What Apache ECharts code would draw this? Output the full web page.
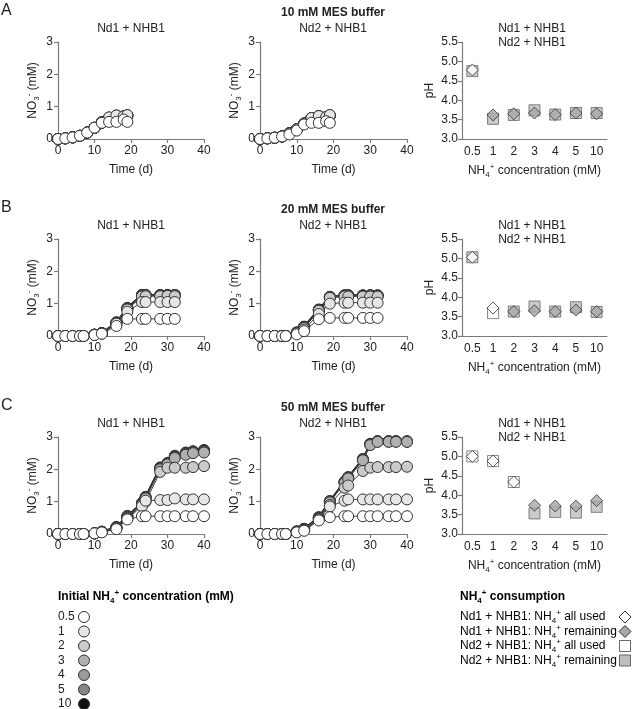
<!DOCTYPE html>
<html>
<head>
<meta charset="utf-8">
<script src="https://cdn.jsdelivr.net/npm/echarts@6/dist/echarts.min.js"></script>
<style>
  html, body { margin: 0; padding: 0; background: #fff; }
  #main { width: 633px; height: 709px; }
</style>
</head>
<body>
<div id="main"></div>
<script>
const FONT = "'Liberation Sans', Arial, sans-serif";
const AX = '#7a7a7a';

// initial NH4+ concentrations (mM) and their fill colours
const concLabels = ['0.5', '1', '2', '3', '4', '5', '10'];
const concColors = ['#ffffff', '#e6e6e6', '#cbcbcb', '#b0b0b0', '#9a9a9a', '#858585', '#111111'];
const phCats = ['0.5', '1', '2', '3', '4', '5', '10'];
const timeTicks = [0, 10, 20, 30, 40];

// sampling days
const tA = [0, 2, 4, 6, 8, 10, 12, 14, 16, 18, 19];
const tB = [0, 2, 4, 6, 7, 10, 12, 16, 19, 23, 24, 28, 30, 32];
const tC = [0, 2, 4, 6, 7, 10, 12, 16, 19, 23, 24, 28, 30, 32, 35, 37, 40];

// NO3- (mM), one row per concentration 0.5,1,2,3,4,5,10
const no3A_Nd1 = [
  [0, 0.02, 0.05, 0.1, 0.2, 0.35, 0.5, 0.53, 0.53, 0.6, 0.53],
  [0, 0.02, 0.05, 0.1, 0.2, 0.35, 0.52, 0.67, 0.73, 0.7, 0.74],
  [0, 0.02, 0.05, 0.1, 0.2, 0.35, 0.52, 0.66, 0.72, 0.7, 0.73],
  [0, 0.02, 0.05, 0.1, 0.2, 0.34, 0.51, 0.66, 0.72, 0.7, 0.73],
  [0, 0.02, 0.05, 0.1, 0.2, 0.34, 0.51, 0.65, 0.71, 0.69, 0.72],
  [0, 0.02, 0.05, 0.1, 0.2, 0.34, 0.51, 0.65, 0.71, 0.69, 0.72],
  [0, 0.02, 0.05, 0.1, 0.2, 0.34, 0.5, 0.65, 0.7, 0.68, 0.72]
];
const no3A_Nd2 = [
  [0, 0.02, 0.04, 0.08, 0.14, 0.26, 0.45, 0.5, 0.5, 0.55, 0.5],
  [0, 0.02, 0.04, 0.08, 0.17, 0.3, 0.48, 0.65, 0.71, 0.68, 0.74],
  [0, 0.02, 0.04, 0.08, 0.17, 0.3, 0.48, 0.65, 0.71, 0.68, 0.73],
  [0, 0.02, 0.04, 0.08, 0.18, 0.3, 0.48, 0.64, 0.7, 0.67, 0.73],
  [0, 0.02, 0.04, 0.08, 0.18, 0.3, 0.47, 0.64, 0.7, 0.67, 0.72],
  [0, 0.02, 0.04, 0.08, 0.18, 0.29, 0.47, 0.64, 0.7, 0.66, 0.72],
  [0, 0.02, 0.04, 0.08, 0.18, 0.29, 0.47, 0.63, 0.69, 0.66, 0.72]
];
const no3B_Nd1 = [
  [0, 0, 0, 0, 0, 0.03, 0.07, 0.31, 0.53, 0.53, 0.53, 0.53, 0.53, 0.53],
  [0, 0, 0, 0, 0, 0.04, 0.08, 0.38, 0.75, 1.05, 1.05, 1.05, 1.05, 1.05],
  [0, 0, 0, 0, 0, 0.04, 0.08, 0.4, 0.82, 1.22, 1.23, 1.23, 1.24, 1.23],
  [0, 0, 0, 0, 0, 0.04, 0.08, 0.41, 0.84, 1.25, 1.26, 1.25, 1.26, 1.26],
  [0, 0, 0, 0, 0, 0.04, 0.09, 0.41, 0.85, 1.26, 1.26, 1.26, 1.26, 1.26],
  [0, 0, 0, 0, 0, 0.04, 0.09, 0.42, 0.86, 1.26, 1.27, 1.26, 1.27, 1.27],
  [0, 0, 0, 0, 0, 0.04, 0.09, 0.42, 0.87, 1.27, 1.27, 1.27, 1.27, 1.27]
];
const no3B_Nd2 = [
  [0, 0, 0, 0, 0, 0.05, 0.15, 0.52, 0.56, 0.56, 0.56, 0.56, 0.56, 0.56],
  [0, 0, 0, 0, 0, 0.08, 0.2, 0.68, 1.0, 1.03, 1.03, 1.03, 1.03, 1.03],
  [0, 0, 0, 0, 0, 0.1, 0.25, 0.78, 1.18, 1.22, 1.22, 1.22, 1.22, 1.22],
  [0, 0, 0, 0, 0, 0.1, 0.27, 0.8, 1.2, 1.24, 1.25, 1.24, 1.25, 1.24],
  [0, 0, 0, 0, 0, 0.1, 0.28, 0.8, 1.2, 1.25, 1.25, 1.25, 1.25, 1.25],
  [0, 0, 0, 0, 0, 0.11, 0.28, 0.81, 1.21, 1.25, 1.26, 1.25, 1.26, 1.25],
  [0, 0, 0, 0, 0, 0.11, 0.29, 0.82, 1.21, 1.26, 1.26, 1.26, 1.26, 1.26]
];
const no3C_Nd1 = [
  [0, 0, 0, 0, 0, 0.02, 0.05, 0.15, 0.45, 0.55, 0.55, 0.55, 0.55, 0.55, 0.55, 0.55, 0.55],
  [0, 0, 0, 0, 0, 0.02, 0.06, 0.17, 0.47, 0.86, 1.03, 1.05, 1.05, 1.1, 1.07, 1.07, 1.07],
  [0, 0, 0, 0, 0, 0.02, 0.06, 0.18, 0.5, 0.9, 1.0, 1.92, 2.05, 2.05, 2.05, 2.07, 2.1],
  [0, 0, 0, 0, 0, 0.02, 0.07, 0.2, 0.53, 0.92, 1.1, 2.0, 2.15, 2.35, 2.45, 2.5, 2.52],
  [0, 0, 0, 0, 0, 0.02, 0.07, 0.2, 0.55, 0.94, 1.12, 2.02, 2.17, 2.38, 2.48, 2.52, 2.55],
  [0, 0, 0, 0, 0, 0.02, 0.07, 0.21, 0.55, 0.95, 1.14, 2.04, 2.18, 2.4, 2.5, 2.55, 2.57],
  [0, 0, 0, 0, 0, 0.02, 0.07, 0.22, 0.56, 0.96, 1.15, 2.06, 2.2, 2.42, 2.52, 2.56, 2.6]
];
const no3C_Nd2 = [
  [0, 0, 0, 0, 0, 0.05, 0.1, 0.42, 0.52, 0.55, 0.55, 0.55, 0.55, 0.55, 0.55, 0.55, 0.55],
  [0, 0, 0, 0, 0, 0.06, 0.12, 0.45, 0.85, 1.03, 1.07, 1.07, 1.07, 1.07, 1.07, 1.07, 1.07],
  [0, 0, 0, 0, 0, 0.06, 0.13, 0.47, 0.9, 1.43, 1.5, 1.95, 2.05, 2.07, 2.07, 2.07, 2.08],
  [0, 0, 0, 0, 0, 0.07, 0.15, 0.5, 0.98, 1.58, 1.72, 2.28, 2.75, 2.85, 2.85, 2.85, 2.85],
  [0, 0, 0, 0, 0, 0.07, 0.15, 0.5, 1.0, 1.6, 1.74, 2.3, 2.77, 2.86, 2.86, 2.86, 2.86],
  [0, 0, 0, 0, 0, 0.08, 0.16, 0.51, 1.01, 1.61, 1.75, 2.31, 2.78, 2.87, 2.87, 2.87, 2.86],
  [0, 0, 0, 0, 0, 0.08, 0.16, 0.52, 1.02, 1.62, 1.76, 2.32, 2.79, 2.87, 2.87, 2.87, 2.87]
];

// final pH, and NH4+ remaining flag (1 = remaining, 0 = all used)
const phA_Nd1 = [4.78, 3.62, 3.65, 3.67, 3.63, 3.67, 3.65];
const remA_Nd1 = [0, 1, 1, 1, 1, 1, 1];
const phA_Nd2 = [4.75, 3.52, 3.62, 3.74, 3.63, 3.67, 3.67];
const remA_Nd2 = [1, 1, 1, 1, 1, 1, 1];
const phB_Nd1 = [5.03, 3.72, 3.63, 3.65, 3.63, 3.67, 3.63];
const remB_Nd1 = [0, 0, 1, 1, 1, 1, 1];
const phB_Nd2 = [5.03, 3.59, 3.63, 3.76, 3.63, 3.74, 3.62];
const remB_Nd2 = [1, 0, 1, 1, 1, 1, 1];
const phC_Nd1 = [5.0, 4.88, 4.34, 3.74, 3.72, 3.72, 3.86];
const remC_Nd1 = [0, 0, 0, 1, 1, 1, 1];
const phC_Nd2 = [5.0, 4.88, 4.34, 3.53, 3.57, 3.55, 3.7];
const remC_Nd2 = [0, 0, 0, 1, 1, 1, 1];

const rows = [
  { letter: 'A', buffer: '10 mM MES buffer', t: tA, nd1: no3A_Nd1, nd2: no3A_Nd2,
    ph1: phA_Nd1, rem1: remA_Nd1, ph2: phA_Nd2, rem2: remA_Nd2, top: 42, height: 97 },
  { letter: 'B', buffer: '20 mM MES buffer', t: tB, nd1: no3B_Nd1, nd2: no3B_Nd2,
    ph1: phB_Nd1, rem1: remB_Nd1, ph2: phB_Nd2, rem2: remB_Nd2, top: 239, height: 97 },
  { letter: 'C', buffer: '50 mM MES buffer', t: tC, nd1: no3C_Nd1, nd2: no3C_Nd2,
    ph1: phC_Nd1, rem1: remC_Nd1, ph2: phC_Nd2, rem2: remC_Nd2, top: 437, height: 97 }
];
const cols = [{ left: 58, width: 146 }, { left: 260, width: 147 }, { left: 462, width: 145 }];

const txt = { fontFamily: FONT, fontSize: 12, color: '#222' };
const richBase = {
  n: { fontFamily: FONT, fontSize: 12, color: '#222', lineHeight: 16 },
  sub: { fontFamily: FONT, fontSize: 8, color: '#222', lineHeight: 16, verticalAlign: 'bottom' },
  sup: { fontFamily: FONT, fontSize: 8, color: '#222', lineHeight: 16, verticalAlign: 'top' },
  b: { fontFamily: FONT, fontSize: 12, fontWeight: 'bold', color: '#222', lineHeight: 16 },
  bsub: { fontFamily: FONT, fontSize: 8, fontWeight: 'bold', color: '#222', lineHeight: 16, verticalAlign: 'bottom' },
  bsup: { fontFamily: FONT, fontSize: 8, fontWeight: 'bold', color: '#222', lineHeight: 16, verticalAlign: 'top' }
};

const axisLine = { show: true, onZero: false, lineStyle: { color: AX, width: 1.2 } };
const axisTick = { show: true, length: 4, lineStyle: { color: AX, width: 1.2 } };

const grid = [], xAxis = [], yAxis = [], series = [], graphic = [];

function label(text, x, y, opt) {
  graphic.push({
    type: 'text', x: x, y: y, silent: true,
    style: Object.assign({ text: text, fill: '#222', font: '12px ' + FONT, align: 'center', verticalAlign: 'middle' }, opt || {})
  });
}

rows.forEach((r, ri) => {
  const subY = r.top - 13;
  label(r.letter, 1, r.top - 31, { font: '16px ' + FONT, align: 'left' });
  label(r.buffer, 333, r.top - 29, { font: 'bold 12px ' + FONT });
  label('Nd1 + NHB1', 131, subY);
  label('Nd2 + NHB1', 333, subY);
  label('Nd1 + NHB1', 532, subY);
  label('Nd2 + NHB1', 532, subY + 14);

  cols.forEach((c, ci) => {
    const g = ri * 3 + ci;
    grid.push({ left: c.left, top: r.top, width: c.width, height: r.height });
    if (ci < 2) {
      xAxis.push({
        gridIndex: g, type: 'value', min: 0, max: 40, interval: 10,
        axisLine, axisTick, splitLine: { show: false },
        axisLabel: Object.assign({ margin: 6, customValues: timeTicks }, txt),
        name: 'Time (d)', nameLocation: 'middle', nameGap: 25, nameTextStyle: txt
      });
      yAxis.push({
        gridIndex: g, type: 'value', min: 0, max: 3, interval: 1,
        axisLine, axisTick, splitLine: { show: false },
        axisLabel: Object.assign({ margin: 5 }, txt),
        name: '{n|NO}{sub|3}{sup|-}{n| (mM)}', nameLocation: 'middle', nameGap: 17,
        nameTextStyle: { rich: richBase }
      });
      const vals = ci === 0 ? r.nd1 : r.nd2;
      for (let k = concLabels.length - 1; k >= 0; k--) {
        series.push({
          type: 'line', name: concLabels[k], xAxisIndex: g, yAxisIndex: g, clip: false,
          data: r.t.map((d, i) => [d, vals[k][i]]),
          symbol: 'circle', symbolSize: 11,
          itemStyle: { color: concColors[k], borderColor: '#333', borderWidth: 1 },
          lineStyle: { color: k === 6 ? '#111' : '#444', width: k === 6 ? 2 : 1 },
          emphasis: { disabled: true }
        });
      }
    } else {
      xAxis.push({
        gridIndex: g, type: 'category', data: phCats, boundaryGap: true,
        axisLine, axisTick: { show: false }, splitLine: { show: false },
        axisLabel: Object.assign({ margin: 7, interval: 0 }, txt),
        name: '{n|NH}{sub|4}{sup|+}{n| concentration (mM)}', nameLocation: 'middle', nameGap: 24,
        nameTextStyle: { rich: richBase }
      });
      yAxis.push({
        gridIndex: g, type: 'value', min: 3, max: 5.5, interval: 0.5,
        axisLine, axisTick, splitLine: { show: false },
        axisLabel: Object.assign({ margin: 4, formatter: v => v.toFixed(1) }, txt),
        name: 'pH', nameLocation: 'middle', nameGap: 26, nameTextStyle: txt
      });
      series.push({
        type: 'scatter', name: 'Nd2 + NHB1', xAxisIndex: g, yAxisIndex: g, clip: false,
        symbol: 'rect', symbolSize: 11,
        data: r.ph2.map((v, i) => ({
          value: [i, v],
          itemStyle: { color: r.rem2[i] ? '#bdbdbd' : '#ffffff', borderColor: '#666', borderWidth: 1 }
        })),
        emphasis: { disabled: true }
      });
      series.push({
        type: 'scatter', name: 'Nd1 + NHB1', xAxisIndex: g, yAxisIndex: g, clip: false,
        symbol: 'diamond', symbolSize: 12,
        data: r.ph1.map((v, i) => ({
          value: [i, v],
          itemStyle: { color: r.rem1[i] ? '#a8a8a8' : '#ffffff', borderColor: '#333', borderWidth: 1 }
        })),
        emphasis: { disabled: true }
      });
    }
  });
});

// legend: initial NH4+ concentration
graphic.push({
  type: 'text', x: 58, y: 597, silent: true,
  style: { text: '{b|Initial NH}{bsub|4}{bsup|+}{b| concentration (mM)}', rich: richBase, align: 'left', verticalAlign: 'middle' }
});
concLabels.forEach((lab, k) => {
  const y = 617 + k * 14.5;
  label(lab, 58, y, { align: 'left' });
  graphic.push({
    type: 'circle', silent: true, shape: { cx: 84, cy: y, r: 5.5 },
    style: { fill: concColors[k], stroke: '#333', lineWidth: 1 }
  });
});

// legend: NH4+ consumption
const consLabels = [
  '{n|Nd1 + NHB1: NH}{sub|4}{sup|+}{n| all used}',
  '{n|Nd1 + NHB1: NH}{sub|4}{sup|+}{n| remaining}',
  '{n|Nd2 + NHB1: NH}{sub|4}{sup|+}{n| all used}',
  '{n|Nd2 + NHB1: NH}{sub|4}{sup|+}{n| remaining}'
];
const consSymbols = ['diamond', 'diamond', 'rect', 'rect'];
const consFills = ['#ffffff', '#a8a8a8', '#ffffff', '#bdbdbd'];
graphic.push({
  type: 'text', x: 460, y: 597, silent: true,
  style: { text: '{b|NH}{bsub|4}{bsup|+}{b| consumption}', rich: richBase, align: 'left', verticalAlign: 'middle' }
});
consLabels.forEach((lab, k) => {
  const y = 617 + k * 14.5;
  graphic.push({
    type: 'text', x: 460, y: y, silent: true,
    style: { text: lab, rich: richBase, align: 'left', verticalAlign: 'middle' }
  });
  if (consSymbols[k] === 'diamond') {
    graphic.push({
      type: 'polygon', silent: true,
      shape: { points: [[625, y - 6], [631, y], [625, y + 6], [619, y]] },
      style: { fill: consFills[k], stroke: '#333', lineWidth: 1 }
    });
  } else {
    graphic.push({
      type: 'rect', silent: true, shape: { x: 619.5, y: y - 5.5, width: 11, height: 11 },
      style: { fill: consFills[k], stroke: '#666', lineWidth: 1 }
    });
  }
});

const chart = echarts.init(document.getElementById('main'), null, { renderer: 'canvas' });
chart.setOption({
  backgroundColor: '#ffffff',
  animation: false,
  grid, xAxis, yAxis, series, graphic
});
</script>
</body>
</html>
